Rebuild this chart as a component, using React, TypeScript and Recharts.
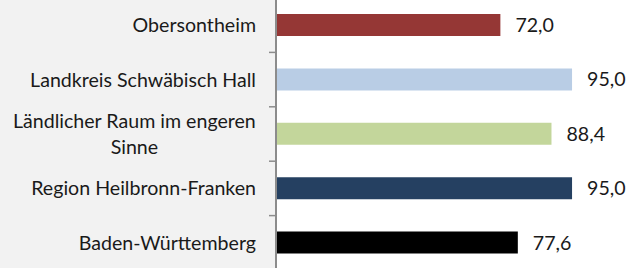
import React from 'react';
import { BarChart, Bar, XAxis, YAxis, Cell, LabelList } from 'recharts';

const categories = [
  'Obersontheim',
  'Landkreis Schwäbisch Hall',
  'Ländlicher Raum im engeren\nSinne',
  'Region Heilbronn-Franken',
  'Baden-Württemberg',
];
const values = [72.0, 95.0, 88.4, 95.0, 77.6];
const barColors = ['#953735', '#b9cde5', '#c3d69b', '#254061', '#000000'];

const data = categories.map((name, i) => ({ name, value: values[i] }));

const FONT = 'Lato, sans-serif';
const FS = 19.6;
const TEXT = '#1a1a1a';
const AXIS = '#8c8c8c';
const W = 635;
const H = 268;
const AXIS_W = 276;

let ctx: CanvasRenderingContext2D | null = null;
const measure = (t: string) => {
  if (!ctx) {
    ctx = document.createElement('canvas').getContext('2d');
  }
  if (!ctx) return t.length * FS * 0.5;
  ctx.font = `${FS}px Lato`;
  return ctx.measureText(t).width;
};

const CategoryTick = (props: any) => {
  const { x, y, payload, index } = props;
  const lines = String(payload.value).split('\n');
  const half = payload.offset ?? 27;
  const lh = 26;
  const multi = lines.length > 1;
  const w = Math.max(...lines.map(measure));
  const tx = multi ? x - w / 2 : x;
  return (
    <g>
      {index > 0 && (
        <line x1={x + 13} x2={x + 20} y1={y - half} y2={y - half} stroke={AXIS} strokeWidth={1.5} />
      )}
      <text
        x={tx}
        y={y}
        textAnchor={multi ? 'middle' : 'end'}
        fill={TEXT}
        fontFamily={FONT}
        fontSize={FS}
      >
        {lines.map((l, i) => (
          <tspan key={i} x={tx} y={y + (i - (lines.length - 1) / 2) * lh} dy="0.36em">
            {l}
          </tspan>
        ))}
      </text>
    </g>
  );
};

const fmt = (v: any) => Number(v).toFixed(1).replace('.', ',');

export default function App() {
  return (
    <div
      style={{
        position: 'absolute',
        left: 0,
        top: 0,
        width: W,
        height: H,
        background: `linear-gradient(to right, #f2f2f2 0px, #f2f2f2 ${AXIS_W}px, #ffffff ${AXIS_W}px)`,
      }}
    >
      <BarChart
        width={W}
        height={H}
        data={data}
        layout="vertical"
        margin={{ top: -2, right: 0, bottom: -2, left: 0 }}
      >
        <XAxis type="number" domain={[0, 115.2]} hide />
        <YAxis
          type="category"
          dataKey="name"
          width={AXIS_W}
          interval={0}
          tickLine={false}
          tickSize={6}
          tickMargin={14}
          axisLine={{ stroke: AXIS, strokeWidth: 2 }}
          tick={<CategoryTick />}
        />
        <Bar dataKey="value" barSize={22} isAnimationActive={false}>
          {data.map((d, i) => (
            <Cell key={i} fill={barColors[i]} />
          ))}
          <LabelList
            dataKey="value"
            position="right"
            offset={15}
            formatter={fmt}
            fill={TEXT}
            fontFamily={FONT}
            fontSize={FS}
          />
        </Bar>
      </BarChart>
    </div>
  );
}
